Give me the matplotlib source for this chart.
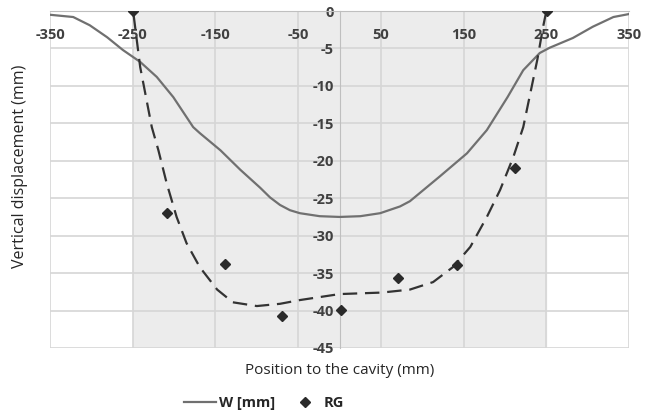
import numpy as np
import matplotlib
matplotlib.use("Agg")
import matplotlib.pyplot as plt

plt.rcParams['axes.unicode_minus'] = False
plt.rcParams['font.family'] = ['Open Sans', 'DejaVu Sans']

# W [mm] curve
w_x = [-350, -322, -302, -281, -262, -241, -221, -201, -177, -169, -144, -120, -96, -84, -72, -60, -48,
       -24, 0, 25, 49, 73, 85, 121, 154, 178, 203, 222, 242, 254, 282, 306, 331, 350]
w_y = [-0.5, -0.8, -1.9, -3.5, -5.2, -6.8, -8.8, -11.5, -15.5, -16.3, -18.6, -21.2, -23.6, -24.9, -25.9, -26.6, -27.0,
       -27.4, -27.5, -27.4, -27.0, -26.1, -25.4, -22.1, -19.0, -15.9, -11.5, -7.9, -5.6, -4.9, -3.6, -2.1, -0.8, -0.4]

# dashed fitted curve
fit_x = [-249, -241, -227, -219, -209, -197, -185, -169, -148, -129, -100, -72, -48,
         0, 51, 85, 113, 137, 158, 178, 194, 210, 222, 239, 246, 249]
fit_y = [-0.5, -7.5, -15.5, -18.6, -23.0, -27.5, -31.0, -34.2, -37.2, -38.9, -39.4, -39.1, -38.6,
         -37.8, -37.6, -37.2, -36.2, -34.2, -31.5, -27.5, -23.9, -19.5, -15.5, -6.5, -2.1, -0.5]

# RG measurements
rg_x = [-250, -209, -138, -70, 2, 71, 142, 212, 251]
rg_y = [0, -27.0, -33.8, -40.7, -39.9, -35.6, -33.9, -21.0, 0]

xticks = [-350, -250, -150, -50, 50, 150, 250, 350]
yticks = [0, -5, -10, -15, -20, -25, -30, -35, -40, -45]

fig = plt.figure(figsize=(6.54, 4.16), dpi=100)
ax = fig.add_axes([0.0765, 0.1635, 0.8855, 0.81])

ax.axvspan(-250, 250, color='#ececec', zorder=0)
for yv in yticks:
    ax.axhline(yv, color='#d6d6d6', lw=1.2, zorder=1)
for xv in xticks:
    ax.axvline(xv, color='#d6d6d6', lw=1.2, zorder=1)

ax.plot(w_x, w_y, color='#707070', lw=1.6, zorder=3, label='W [mm]')
ax.plot(fit_x, fit_y, color='#333333', lw=1.6, ls=(0, (6.5, 3.5)), zorder=3)
ax.plot(rg_x, rg_y, ls='none', marker='D', ms=5, color='#2a2a2a', zorder=4, label='RG')

ax.set_xlim(-350, 350)
ax.set_ylim(-45, 0)

ax.spines['left'].set_position(('data', 0))
ax.spines['bottom'].set_position(('data', 0))
ax.spines['left'].set_color('#bfbfbf')
ax.spines['bottom'].set_color('#bfbfbf')
ax.spines['right'].set_visible(False)
ax.spines['top'].set_visible(False)

ax.set_xticks(xticks)
ax.set_yticks(yticks)
ax.set_xticklabels([str(v) for v in xticks], fontweight='bold', color='#404040', fontsize=10.5)
ax.set_yticklabels([str(v) for v in yticks], fontweight='bold', color='#404040', fontsize=10.5)
ax.tick_params(axis='both', length=0)
ax.tick_params(axis='x', pad=12)
ax.tick_params(axis='y', pad=4)

fig.text(0.52, 0.11, 'Position to the cavity (mm)', ha='center', va='center', fontsize=11, color='#262626')
fig.text(0.03, 0.60, 'Vertical displacement (mm)', ha='center', va='center', rotation=90, fontsize=11.5, color='#262626')

leg = fig.legend(loc='center', bbox_to_anchor=(0.404, 0.031), ncol=2, frameon=False,
                 prop={'weight': 'bold', 'size': 10.5}, handlelength=2.2, handletextpad=0.2,
                 columnspacing=0.9)
for t in leg.get_texts():
    t.set_color('#262626')

fig.savefig('out.png', dpi=100)
